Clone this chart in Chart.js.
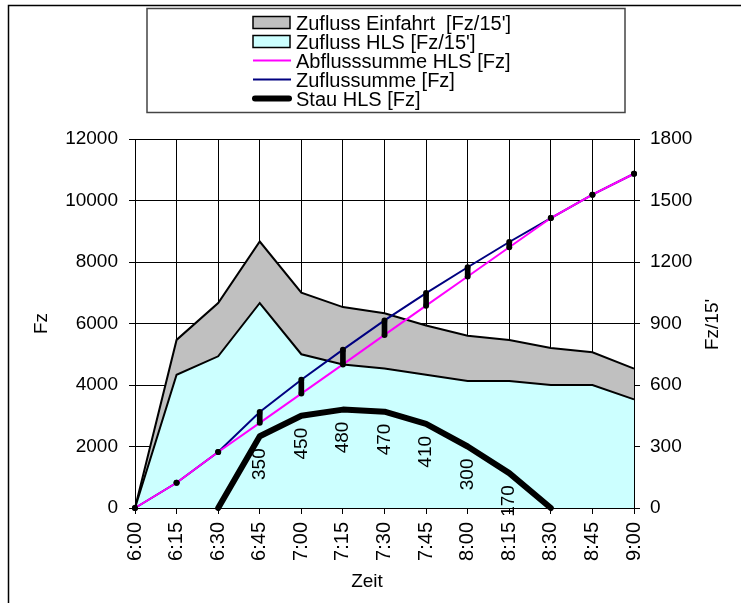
<!DOCTYPE html>
<html>
<head>
<meta charset="utf-8">
<script src="https://cdn.jsdelivr.net/npm/chart.js@4.4.0/dist/chart.umd.min.js"></script>
<style>
html,body{margin:0;padding:0;background:#fff;overflow:hidden}
canvas{display:block}
</style>
</head>
<body>
<canvas id="c" width="741" height="603"></canvas>
<script>
// ---- data ----
const categories = ['6:00','6:15','6:30','6:45','7:00','7:15','7:30','7:45','8:00','8:15','8:30','8:45','9:00'];
// flows per 15 min (right axis, stacked areas)
const zuflussHLS      = [0, 650, 740, 1000, 750, 700, 680, 650, 620, 620, 600, 600, 530];
const zuflussEinfahrt = [0, 170, 260, 300, 300, 280, 270, 240, 220, 200, 180, 160, 150];
// cumulative sums (left axis)
const zuflussumme     = [0, 820, 1820, 3120, 4170, 5150, 6100, 6990, 7830, 8650, 9430, 10190, 10870];
const abflusssumme    = [0, 820, 1820, 2770, 3720, 4670, 5630, 6580, 7530, 8480, 9430, 10190, 10870];
// queue (right axis)
const stauHLS         = [null, null, 0, 350, 450, 480, 470, 410, 300, 170, 0, null, null];
// axes
const leftAxis  = {min: 0, max: 12000, step: 2000};
const rightAxis = {min: 0, max: 1800, step: 300};
const legendLabels = ["Zufluss Einfahrt  [Fz/15']", "Zufluss HLS [Fz/15']", "Abflusssumme HLS [Fz]", "Zuflussumme [Fz]", "Stau HLS [Fz]"];
const axisTitles = {left: 'Fz', right: "Fz/15'", bottom: 'Zeit'};

const FONT = '"Liberation Sans", Arial, sans-serif';
Chart.defaults.font.family = FONT;
Chart.defaults.font.size = 19;
Chart.defaults.color = '#000';

const highLow = zuflussumme.map((v, i) => [abflusssumme[i], v]);

const overlay = {
  id: 'overlay',
  beforeDraw(chart) {
    const ctx = chart.ctx;
    ctx.save();
    ctx.fillStyle = '#fff';
    ctx.fillRect(0, 0, chart.width, chart.height);
    ctx.strokeStyle = '#000';
    ctx.lineWidth = 1.5;
    ctx.beginPath();
    ctx.moveTo(8.5, chart.height);
    ctx.lineTo(8.5, 5.5);
    ctx.lineTo(chart.width, 5.5);
    ctx.stroke();
    ctx.restore();
  },
  afterDraw(chart) {
    const ctx = chart.ctx;
    const ca = chart.chartArea;
    const ds = chart.data.datasets;
    ctx.save();
    // legend box
    ctx.strokeStyle = '#444';
    ctx.lineWidth = 1.5;
    ctx.strokeRect(147, 8.5, 478, 104);
    const rows = ds.filter(d => d.legendRow !== undefined).sort((a, b) => a.legendRow - b.legendRow);
    ctx.font = '20px ' + FONT;
    ctx.textAlign = 'left';
    ctx.textBaseline = 'alphabetic';
    rows.forEach((d, r) => {
      const base = 29.5 + r * 19;
      const cy = base - 7;
      if (d.legendKind === 'box') {
        ctx.fillStyle = d.backgroundColor;
        ctx.fillRect(253, cy - 6, 37, 12);
        ctx.strokeStyle = '#000';
        ctx.lineWidth = 1.5;
        ctx.strokeRect(253, cy - 6, 37, 12);
      } else {
        ctx.strokeStyle = d.borderColor;
        ctx.lineWidth = d.borderWidth;
        ctx.lineCap = d.legendKind === 'thick' ? 'round' : 'butt';
        ctx.beginPath();
        ctx.moveTo(d.legendKind === 'thick' ? 255 : 253, cy);
        ctx.lineTo(d.legendKind === 'thick' ? 289 : 291, cy);
        ctx.stroke();
      }
      ctx.fillStyle = '#000';
      ctx.fillText(d.label, 296, base);
    });
    // queue value labels
    const si = ds.findIndex(d => d.id === 'stau');
    const meta = chart.getDatasetMeta(si);
    ctx.font = '19px ' + FONT;
    ctx.fillStyle = '#000';
    meta.data.forEach((pt, i) => {
      const v = stauHLS[i];
      if (v === null || v === 0 || !isFinite(pt.x) || !isFinite(pt.y)) return;
      ctx.save();
      ctx.translate(pt.x, pt.y + 12);
      ctx.rotate(-Math.PI / 2);
      ctx.textAlign = 'right';
      ctx.textBaseline = 'middle';
      ctx.fillText(String(v), 0, 0);
      ctx.restore();
    });
    // axis titles
    const midY = (ca.top + ca.bottom) / 2;
    ctx.textAlign = 'center';
    ctx.textBaseline = 'middle';
    ctx.save(); ctx.translate(42, midY); ctx.rotate(-Math.PI / 2); ctx.fillText(axisTitles.left, 0, 0); ctx.restore();
    ctx.save(); ctx.translate(713, midY + 1); ctx.rotate(-Math.PI / 2); ctx.fillText(axisTitles.right, 0, 0); ctx.restore();
    ctx.fillText(axisTitles.bottom, 367, 582);
    ctx.restore();
  }
};

new Chart(document.getElementById('c'), {
  data: {
    labels: categories,
    datasets: [
      {
        type: 'line', label: legendLabels[1], data: zuflussHLS, yAxisID: 'y2', stack: 'flow',
        backgroundColor: '#CCFFFF', borderColor: '#000', borderWidth: 2, fill: 'origin',
        pointRadius: 0, order: 8, legendRow: 1, legendKind: 'box', tension: 0
      },
      {
        type: 'line', label: legendLabels[0], data: zuflussEinfahrt, yAxisID: 'y2', stack: 'flow',
        backgroundColor: '#C0C0C0', borderColor: '#000', borderWidth: 2, fill: '-1',
        pointRadius: 0, order: 9, legendRow: 0, legendKind: 'box', tension: 0
      },
      {
        type: 'line', label: legendLabels[3], data: zuflussumme, yAxisID: 'y',
        borderColor: '#000080', borderWidth: 2, fill: false,
        pointRadius: 3, pointBackgroundColor: '#000', pointBorderWidth: 0,
        order: 4, legendRow: 3, legendKind: 'line', clip: false
      },
      {
        type: 'line', label: legendLabels[2], data: abflusssumme, yAxisID: 'y',
        borderColor: '#FF00FF', borderWidth: 2, fill: false,
        pointRadius: 3, pointBackgroundColor: '#000', pointBorderWidth: 0,
        order: 3, legendRow: 2, legendKind: 'line', clip: false
      },
      {
        type: 'bar', label: 'high-low', data: highLow, yAxisID: 'y',
        backgroundColor: '#000', barThickness: 5, borderRadius: 2.5, borderSkipped: false,
        order: 2, clip: false
      },
      {
        type: 'line', id: 'stau', label: legendLabels[4], data: stauHLS, yAxisID: 'y2', stack: 'stau',
        borderColor: '#000', borderWidth: 6, fill: false, pointRadius: 0,
        borderCapStyle: 'round', borderJoinStyle: 'round',
        order: 1, legendRow: 4, legendKind: 'thick', clip: false, spanGaps: false
      }
    ]
  },
  options: {
    responsive: false,
    animation: false,
    devicePixelRatio: 1,
    events: [],
    layout: {padding: {top: 139, left: 0, right: 0, bottom: 0}},
    plugins: {legend: {display: false}, tooltip: {enabled: false}},
    scales: {
      x: {
        type: 'category', offset: false, z: 1,
        grid: {color: '#000', lineWidth: 1, tickLength: 6, offset: false},
        border: {display: true, color: '#000', width: 2},
        ticks: {minRotation: 90, maxRotation: 90, autoSkip: false, padding: 8, font: {size: 20}, color: '#000'},
        afterFit(s) { s.height = 95; }
      },
      y: {
        position: 'left', min: leftAxis.min, max: leftAxis.max,
        grid: {color: '#000', lineWidth: 1, tickLength: 6},
        border: {display: true, color: '#000', width: 1},
        ticks: {stepSize: leftAxis.step, padding: 11, color: '#000', callback: v => String(v)},
        afterFit(s) { s.width = 135; }
      },
      y2: {
        position: 'right', min: rightAxis.min, max: rightAxis.max, stacked: true,
        grid: {drawOnChartArea: false, color: '#000', tickLength: 6},
        border: {display: true, color: '#000', width: 1},
        ticks: {stepSize: rightAxis.step, padding: 10, color: '#000', callback: v => String(v)},
        afterFit(s) { s.width = 107; }
      }
    }
  },
  plugins: [overlay]
});
</script>
</body>
</html>
